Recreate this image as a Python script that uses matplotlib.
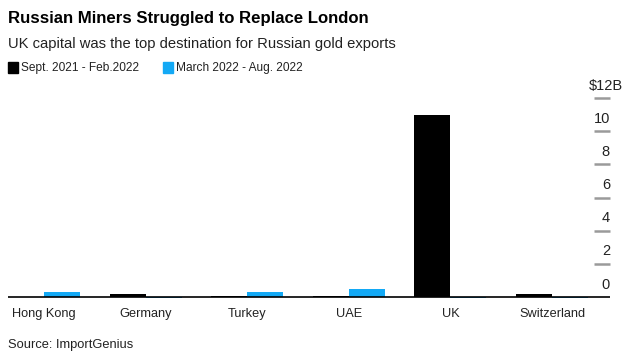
import matplotlib
matplotlib.use("Agg")
import matplotlib.pyplot as plt
import matplotlib.transforms as mtransforms
import numpy as np

plt.rcParams['font.family'] = ['Liberation Sans', 'DejaVu Sans']

categories = ["Hong Kong", "Germany", "Turkey", "UAE", "UK", "Switzerland"]
series_names = ["Sept. 2021 - Feb.2022", "March 2022 - Aug. 2022"]
sept21_feb22 = [0.02, 0.18, 0.05, 0.08, 10.98, 0.18]
mar22_aug22 = [0.28, -0.05, 0.28, 0.46, -0.04, -0.04]
yticks = [0, 2, 4, 6, 8, 10, 12]
ytick_labels = ["0", "2", "4", "6", "8", "10", "$12B"]

colors = ["#000000", "#13a9f5"]

W, H = 628, 363
fig = plt.figure(figsize=(W / 100, H / 100), dpi=100)

# axes placement in pixels
left_px, right_px = 8, 610
ymin, ymax = -0.15, 12.1
y0_px, y12_px = 297, 98
ppu = (y0_px - y12_px) / 12.0
bottom_px = y0_px - ymin * ppu
top_px = y12_px - (ymax - 12) * ppu
ax = fig.add_axes([left_px / W, (H - bottom_px) / H,
                   (right_px - left_px) / W, (bottom_px - top_px) / H])

x = np.arange(len(categories))
bw = 0.354
ax.bar(x - bw / 2, sept21_feb22, width=bw, color=colors[0], linewidth=0)
ax.bar(x + bw / 2, mar22_aug22, width=bw, color=colors[1], linewidth=0)

ax.set_xlim(-0.354, 5.571)
ax.set_ylim(ymin, ymax)
ax.axhline(0, color="black", lw=1.2, zorder=3)

for s in ax.spines.values():
    s.set_visible(False)

ax.set_xticks(x)
ax.set_xticklabels(categories, fontsize=9.2, color="#222222")
ax.tick_params(axis="x", length=0, pad=6)

# right-side ticks (short grey lines) and labels above them
ax.set_yticks([])
trans = mtransforms.blended_transform_factory(ax.transAxes, ax.transData)
tick_len = 16 / (right_px - left_px)
for v, lab in zip(yticks, ytick_labels):
    if v != 0:
        ax.plot([1 - tick_len, 1.0], [v, v], color="#9a9a9a", lw=1.8,
                transform=trans, clip_on=False, solid_capstyle="butt")
    if lab.startswith("$"):
        ax.text(1.0 + 13 / (right_px - left_px), v + 0.75, lab, transform=trans,
                ha="right", va="center", fontsize=10.5, color="#222222")
    else:
        ax.text(1.0, v + 0.75, lab, transform=trans, ha="right", va="center",
                fontsize=10.5, color="#222222")

# Title, subtitle
fig.text(8 / W, 1 - 18 / H, "Russian Miners Struggled to Replace London",
         fontsize=12.1, fontweight="bold", va="center", ha="left", color="#000000")
fig.text(8 / W, 1 - 44 / H, "UK capital was the top destination for Russian gold exports",
         fontsize=10.6, va="center", ha="left", color="#222222")

# Legend
leg_y = 1 - 68 / H
fig.patches.append(plt.Rectangle((8 / W, 1 - 72.5 / H), 10 / W, 10 / H,
                                 transform=fig.transFigure, color=colors[0]))
fig.text(21 / W, leg_y, series_names[0], fontsize=8.6, va="center", ha="left", color="#222222")
fig.patches.append(plt.Rectangle((163 / W, 1 - 72.5 / H), 10 / W, 10 / H,
                                 transform=fig.transFigure, color=colors[1]))
fig.text(176 / W, leg_y, series_names[1], fontsize=8.6, va="center", ha="left", color="#222222")

# Source
fig.text(8 / W, 1 - 345 / H, "Source: ImportGenius", fontsize=9.3, va="center",
         ha="left", color="#222222")

fig.savefig("out.png", dpi=100)
